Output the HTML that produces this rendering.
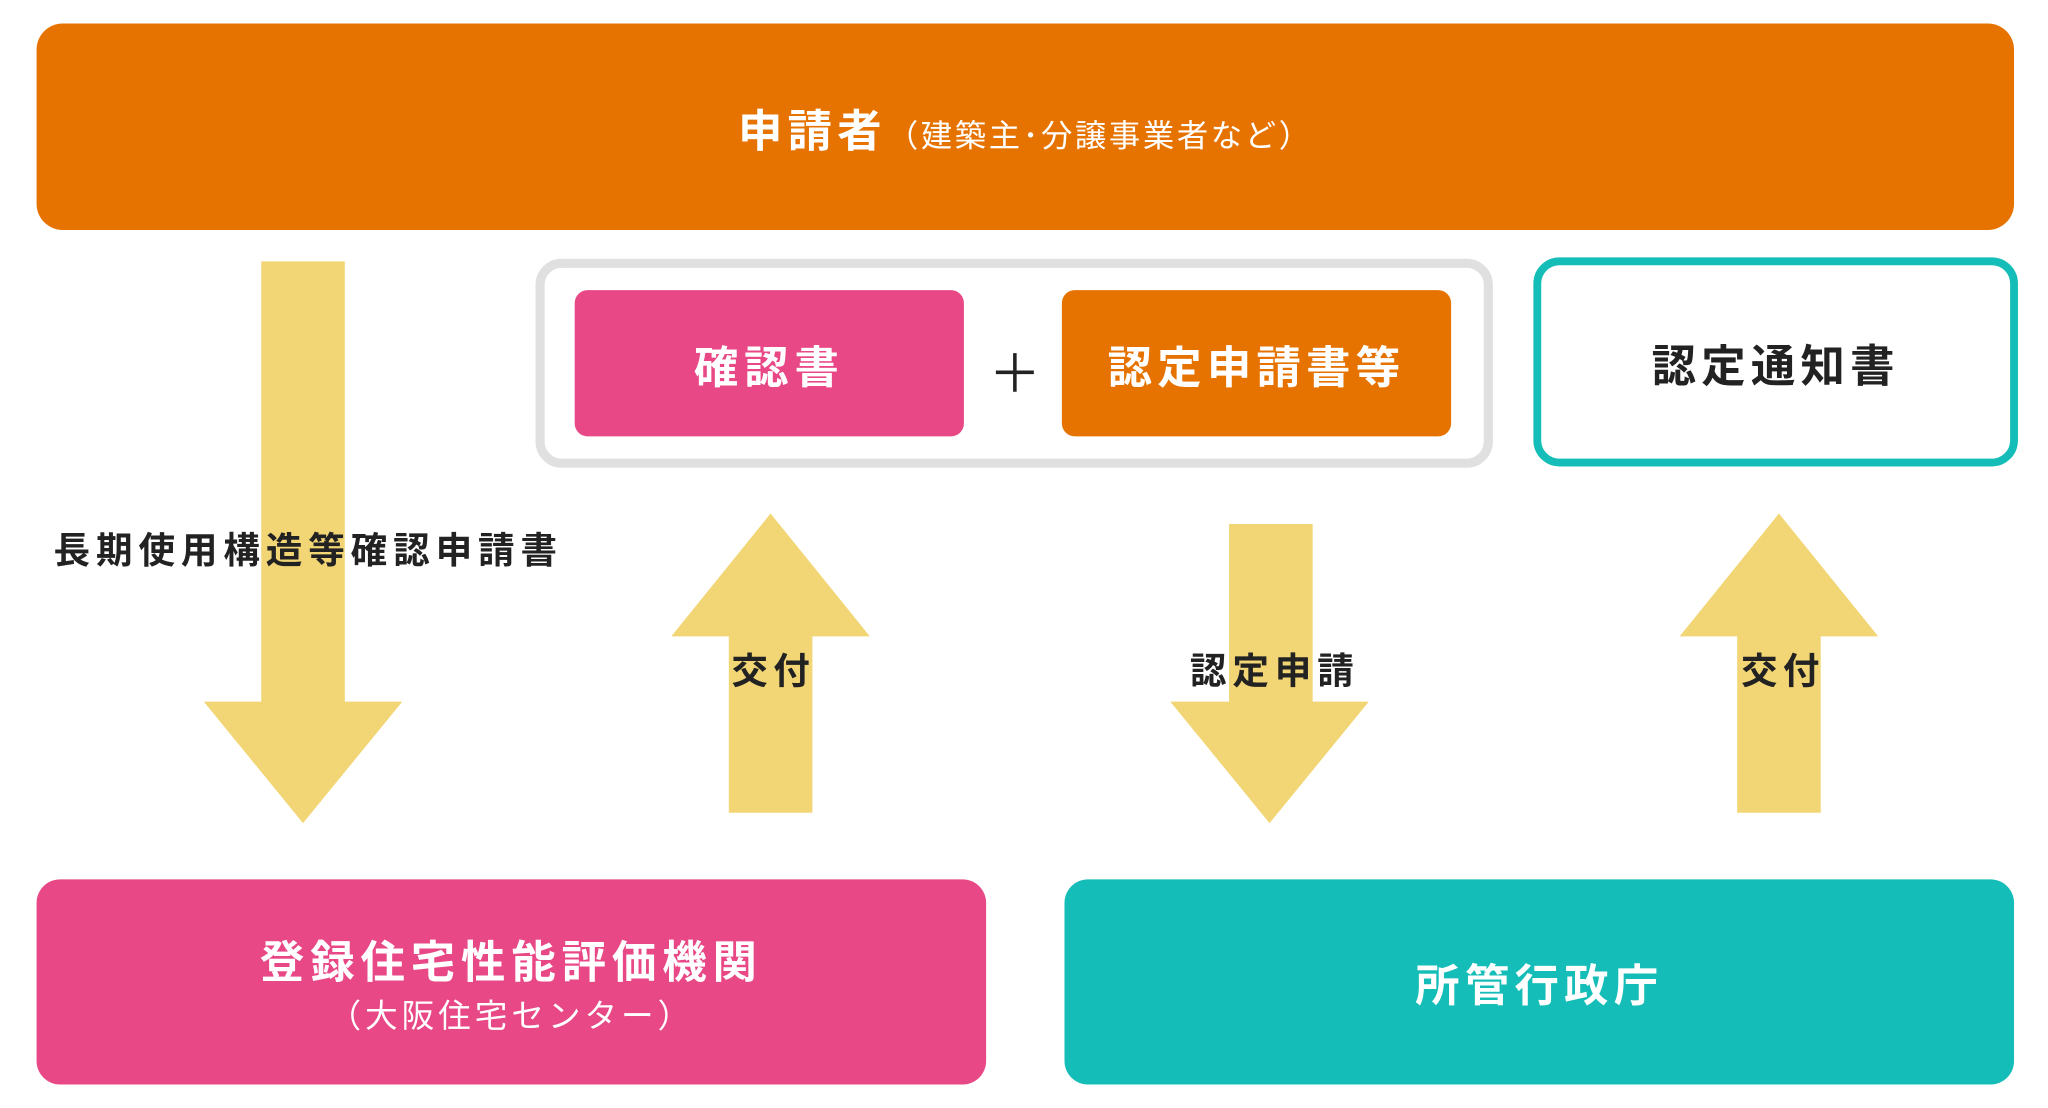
<!DOCTYPE html>
<html><head><meta charset="utf-8"><style>
html,body{margin:0;padding:0;background:#fff;width:2048px;height:1108px;overflow:hidden}
#s{position:absolute;left:0;top:0;width:1568px;height:848px;transform:scale(1.30612,1.3066);transform-origin:0 0;font-family:"Liberation Sans","Noto Sans CJK JP",sans-serif}
.b{position:absolute;box-sizing:border-box;display:flex;align-items:center;justify-content:center;flex-direction:column;color:#fff;font-weight:bold}
.t{position:absolute;font-weight:bold;color:#222;white-space:nowrap;transform:translate(-50%,-50%)}
</style></head><body><div id="s">
<div class="b" style="left:28px;top:18px;width:1514px;height:158px;background:#E67300;border-radius:20px"><div style="white-space:nowrap"><span style="font-size:34px;letter-spacing:4px">申請者</span><span style="font-size:24px;font-weight:normal;letter-spacing:2px">（建築主･分譲事業者など）</span></div></div>
<div class="b" style="left:410px;top:198px;width:733px;height:160px;border:7px solid #E0E0E0;border-radius:20px"></div>
<div class="b" style="left:440px;top:222px;width:298px;height:112px;background:#E84886;border-radius:10px;font-size:34px;letter-spacing:4.5px">確認書</div>
<div class="t" style="left:777px;top:283px;font-size:40px;font-weight:normal">＋</div>
<div class="b" style="left:813px;top:222px;width:298px;height:112px;background:#E67300;border-radius:10px;font-size:34px;letter-spacing:4px">認定申請書等</div>
<div class="b" style="left:1174px;top:197px;width:371px;height:160px;border:6px solid #14BDB7;border-radius:20px;color:#222;font-size:34px;letter-spacing:4px">認定通知書</div>
<svg style="position:absolute;left:0;top:0" width="1568" height="848">
<g fill="#F2D675">
<polygon points="200,200 264,200 264,537 308,537 232,630 156,537 200,537"/>
<polygon points="590,393 666,487 622,487 622,622 558,622 558,487 514,487"/>
<polygon points="941,401 1005,401 1005,537 1048,537 972,630 896,537 941,537"/>
<polygon points="1362,393 1438,487 1394,487 1394,622 1330,622 1330,487 1286,487"/>
</g></svg>
<div class="t" style="left:236px;top:420px;font-size:28px;letter-spacing:4.5px">長期使用構造等確認申請書</div>
<div class="t" style="left:592px;top:512px;font-size:28px;letter-spacing:4px">交付</div>
<div class="t" style="left:976px;top:512px;font-size:28px;letter-spacing:4.5px">認定申請</div>
<div class="t" style="left:1365px;top:512px;font-size:28px;letter-spacing:4px">交付</div>
<div class="b" style="left:28px;top:673px;width:727px;height:157px;background:#E84886;border-radius:18px"><div style="font-size:34px;letter-spacing:4.5px;margin-top:0px">登録住宅性能評価機関</div><div style="font-size:25px;font-weight:normal;letter-spacing:3px;margin-top:0px">（大阪住宅センター）</div></div>
<div class="b" style="left:815px;top:673px;width:727px;height:157px;background:#14BDB7;border-radius:18px;font-size:34px;letter-spacing:4px">所管行政庁</div>
</div></body></html>
